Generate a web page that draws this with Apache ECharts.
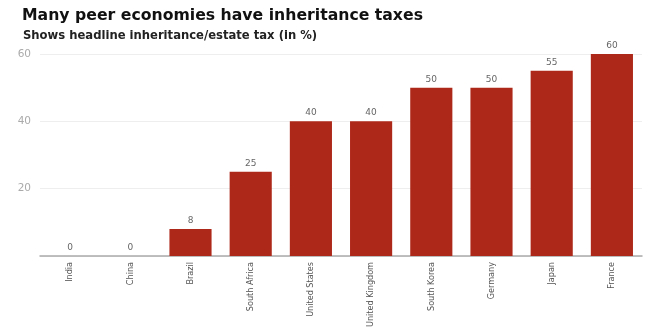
<!DOCTYPE html>
<html>
<head>
<meta charset="utf-8">
<script src="https://cdn.jsdelivr.net/npm/echarts@6/dist/echarts.min.js"></script>
<style>
  html, body { margin: 0; padding: 0; background: #fff; }
  #chart { width: 650px; height: 329px; }
</style>
</head>
<body>
<div id="chart"></div>
<script>
// Headline inheritance / estate tax rates by country (%)
const countries = ['India', 'China', 'Brazil', 'South Africa', 'United States',
  'United Kingdom', 'South Korea', 'Germany', 'Japan', 'France'];
const taxRates = [0, 0, 8, 25, 40, 40, 50, 50, 55, 60];
const yTicks = [0, 20, 40, 60];

const chart = echarts.init(document.getElementById('chart'));
chart.setOption({
  animation: false,
  title: [
    {
      text: 'Many peer economies have inheritance taxes',
      left: 17, top: 3,
      textStyle: { fontFamily: 'DejaVu Sans', fontWeight: 'bold', fontSize: 15.7, color: '#111' }
    },
    {
      text: 'Shows headline inheritance/estate tax (in %)',
      left: 18, top: 25,
      textStyle: { fontFamily: 'DejaVu Sans', fontWeight: 'bold', fontSize: 11.6, color: '#222' }
    }
  ],
  grid: { left: 40, right: 8, top: 54, bottom: 73, outerBoundsMode: 'none' },
  xAxis: {
    type: 'category',
    data: countries,
    axisLine: { lineStyle: { color: '#aaa', width: 1.5 } },
    axisTick: { show: false },
    axisLabel: {
      rotate: 90, margin: 6, fontSize: 9,
      fontFamily: 'DejaVu Sans Condensed', color: '#555'
    }
  },
  yAxis: {
    type: 'value',
    min: 0, max: 60, interval: 20,
    axisLine: { show: false },
    axisTick: { show: false },
    splitLine: { lineStyle: { color: '#eee' } },
    axisLabel: {
      fontFamily: 'DejaVu Sans', fontSize: 10.5, color: '#aaa', margin: 9,
      formatter: v => (yTicks.includes(v) && v !== 0 ? String(v) : '')
    }
  },
  series: [{
    type: 'bar',
    data: taxRates,
    barWidth: '70%',
    itemStyle: { color: '#AE2819' },
    label: {
      show: true, position: 'top', distance: 4,
      fontFamily: 'DejaVu Sans', fontSize: 9, color: '#666'
    }
  }]
});
</script>
</body>
</html>
